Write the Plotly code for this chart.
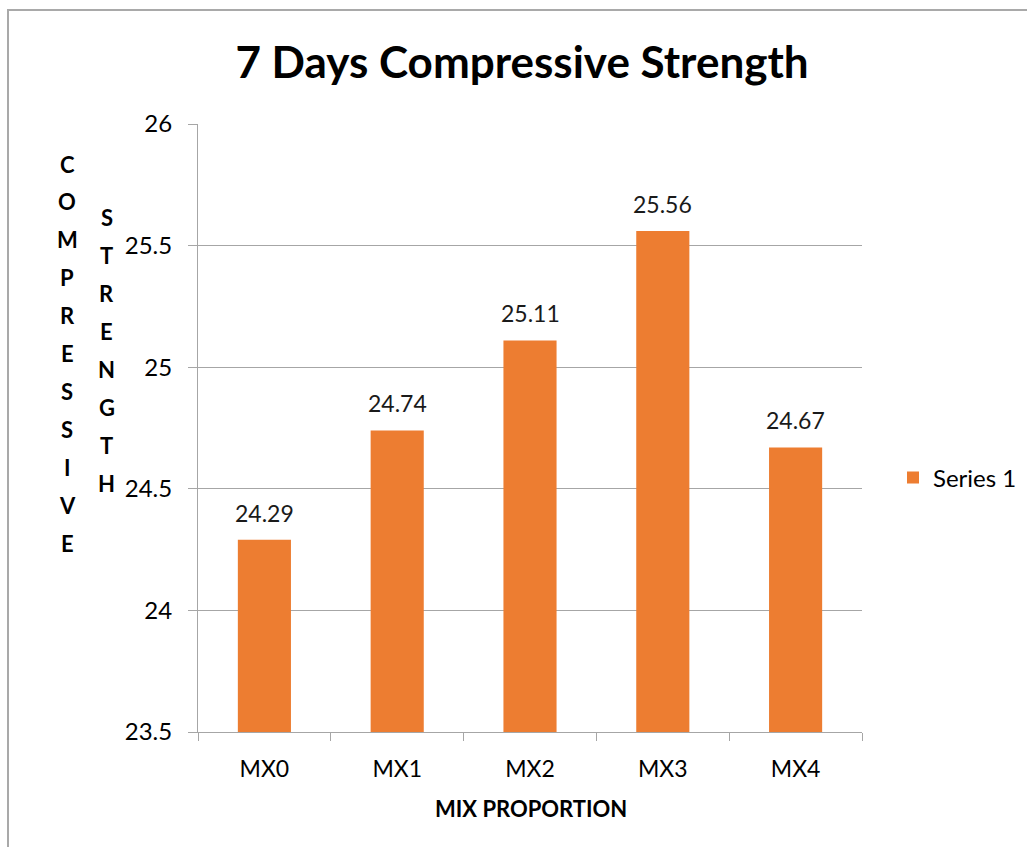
import plotly.graph_objects as go

# Data
mixes = ["MX0", "MX1", "MX2", "MX3", "MX4"]
strength = [24.29, 24.74, 25.11, 25.56, 24.67]
y_ticks = [23.5, 24, 24.5, 25, 25.5, 26]
y_tick_labels = ["23.5", "24", "24.5", "25", "25.5", "26"]

FONT = "Lato"
ORANGE = "#ED7D31"
GRID = "#A6A6A6"
TXT = "#000000"

W, H = 1027, 847
L, R, T, B = 198, 165, 124, 115

fig = go.Figure()
fig.add_trace(go.Bar(
    x=mixes, y=strength, name="Series 1",
    marker=dict(color=ORANGE, line=dict(width=0)),
    width=0.4,
))

annotations = []
# value labels above each bar
for m, v in zip(mixes, strength):
    annotations.append(dict(
        x=m, y=v, xref="x", yref="y", text=f"{v:.2f}", showarrow=False,
        yanchor="bottom", yshift=11, font=dict(family=FONT, size=23, color="#1a1a1a"),
    ))

# stacked vertical y-axis title (two columns of letters)
plot_w = W - L - R
plot_h = H - T - B
def px_to_paper(px):
    return (px - L) / plot_w
def py_to_paper(py):
    return (H - B - py) / plot_h

for word, px, top in (("COMPRESSIVE", 67, 164), ("STRENGTH", 107, 218)):
    for i, ch in enumerate(word):
        annotations.append(dict(
            x=px_to_paper(px), y=py_to_paper(top + i * 37.9),
            xref="paper", yref="paper", text=f"<b>{ch}</b>", showarrow=False,
            xanchor="center", yanchor="middle",
            font=dict(family=FONT, size=22, color=TXT),
        ))

# x-axis title
annotations.append(dict(
    x=px_to_paper(531), y=py_to_paper(808), xref="paper", yref="paper",
    text="<b>MIX PROPORTION</b>", showarrow=False, xanchor="center", yanchor="middle",
    font=dict(family=FONT, size=22, color=TXT),
))

fig.update_layout(
    width=W, height=H,
    margin=dict(l=L, r=R, t=T, b=B, autoexpand=False),
    paper_bgcolor="white", plot_bgcolor="white",
    title=dict(
        text="<b>7 Days Compressive Strength</b>",
        x=522 / W, xanchor="center", y=1 - 63 / H, yanchor="middle",
        font=dict(family=FONT, size=44, color=TXT),
    ),
    font=dict(family=FONT, size=23, color=TXT),
    showlegend=True,
    legend=dict(
        x=px_to_paper(893), y=py_to_paper(478), xanchor="left", yanchor="middle",
        font=dict(family=FONT, size=24, color=TXT),
        bgcolor="rgba(0,0,0,0)", itemwidth=30,
    ),
    annotations=annotations,
    shapes=[dict(
        type="rect", xref="paper", yref="paper",
        x0=px_to_paper(8), x1=px_to_paper(1040),
        y0=py_to_paper(870), y1=py_to_paper(10),
        line=dict(color="#A9A9A9", width=2), fillcolor="rgba(0,0,0,0)", layer="below",
    )],
)

fig.update_xaxes(
    type="category", showgrid=False,
    showline=True, linecolor=GRID, linewidth=1,
    ticks="outside", tickson="boundaries", ticklen=8, tickcolor=GRID, tickwidth=1,
    tickfont=dict(family=FONT, size=23, color=TXT),
    ticklabelstandoff=16,
)
fig.update_yaxes(
    range=[23.5, 26], tickvals=y_ticks, ticktext=y_tick_labels,
    showgrid=True, gridcolor=GRID, gridwidth=1, zeroline=False,
    showline=True, linecolor=GRID, linewidth=1,
    ticks="outside", ticklen=9, tickcolor=GRID, tickwidth=1,
    tickfont=dict(family=FONT, size=24, color=TXT),
    ticklabelstandoff=11,
)

fig.write_html("out.html")
